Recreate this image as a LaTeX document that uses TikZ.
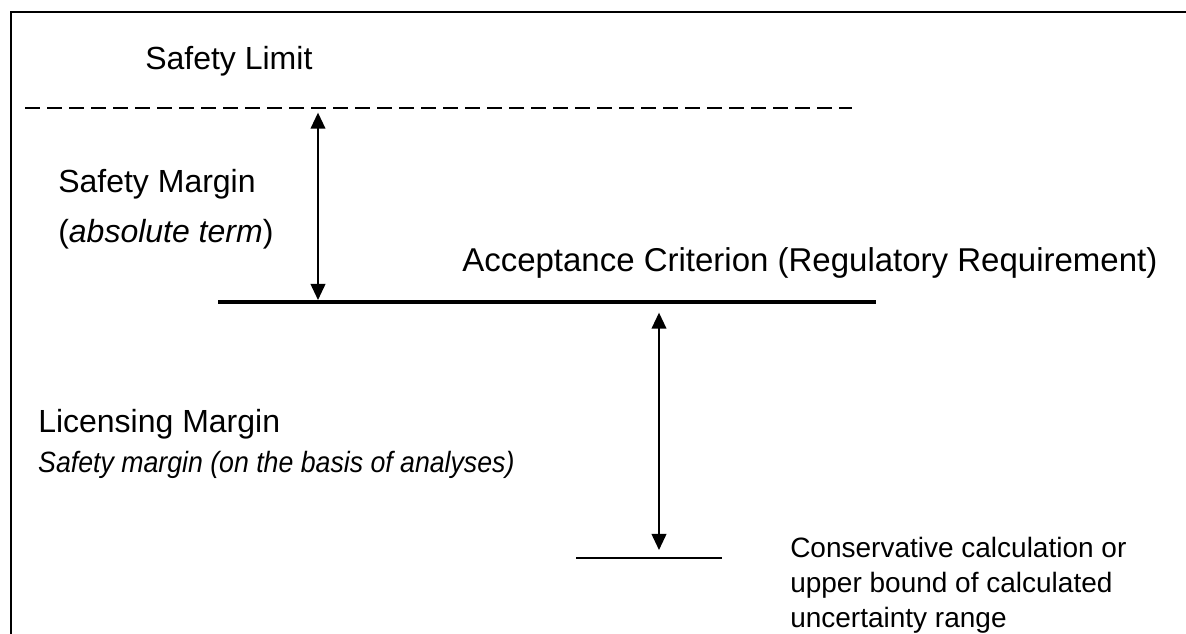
\documentclass[tikz,border=0pt]{standalone}
\usepackage{fontspec}
\setmainfont{Liberation Sans}
\usetikzlibrary{arrows.meta,positioning}
\tikzstyle{labeltext}=[anchor=base west, inner sep=0pt, font=\fontsize{24}{28}\selectfont]
\tikzstyle{notetext}=[anchor=base west, inner sep=0pt, align=left, font=\fontsize{21}{26.25}\selectfont]
\tikzstyle{levelline}=[line width=1.5pt]
\tikzstyle{marginarrow}=[{Triangle[length=12pt,width=11pt]}-{Triangle[length=12pt,width=11pt]}, line width=1.3pt]

\begin{document}
\begin{tikzpicture}[x=0.75pt,y=-0.75pt]
\useasboundingbox (0,0) rectangle (1186,634);

% frame (only left and top edges are in view)
\draw[line width=1.6pt] (11,645) -- (11,12) -- (1195,12);

% levels
\coordinate (lim-l) at (25,108);
\coordinate (lim-r) at (852,108);
\coordinate (acc-l) at (218,302);
\coordinate (acc-r) at (876,302);
\coordinate (con-l) at (576,558);
\coordinate (con-r) at (722,558);

\draw[levelline, dash pattern=on 11.25pt off 5.25pt] (lim-l) -- (lim-r);
\draw[levelline, line width=2.4pt] (acc-l) -- (acc-r);
\draw[levelline] (con-l) -- (con-r);

% margins
\coordinate (sm-top) at (318,108);
\coordinate (sm-bot) at (318,302);
\coordinate (lm-top) at (659,302);
\coordinate (lm-bot) at (659,558);

\draw[marginarrow, shorten <=3.5pt, shorten >=1.5pt] (sm-top) -- (sm-bot);
\draw[marginarrow, shorten <=8pt, shorten >=6pt] (lm-top) -- (lm-bot);

% labels
\node[labeltext] (limit) at (145,70) {Safety Limit};
\node[labeltext] (smargin) at (58,193) {Safety Margin};
\node[labeltext] (absterm) at (58,243) {(\textit{absolute term})};
\node[labeltext, font=\fontsize{24.75}{28}\selectfont] (accept) at (462,272) {Acceptance Criterion (Regulatory Requirement)};
\node[labeltext] (lmargin) at (38,433) {Licensing Margin};
\node[labeltext, font=\fontsize{22}{26}\selectfont\itshape, xscale=0.91, transform shape] (smbasis) at (38,473) {Safety margin (on the basis of analyses)};
\node[notetext] (conserv) at (790,627) {Conservative calculation or\\upper bound of calculated\\uncertainty range};

\end{tikzpicture}
\end{document}
